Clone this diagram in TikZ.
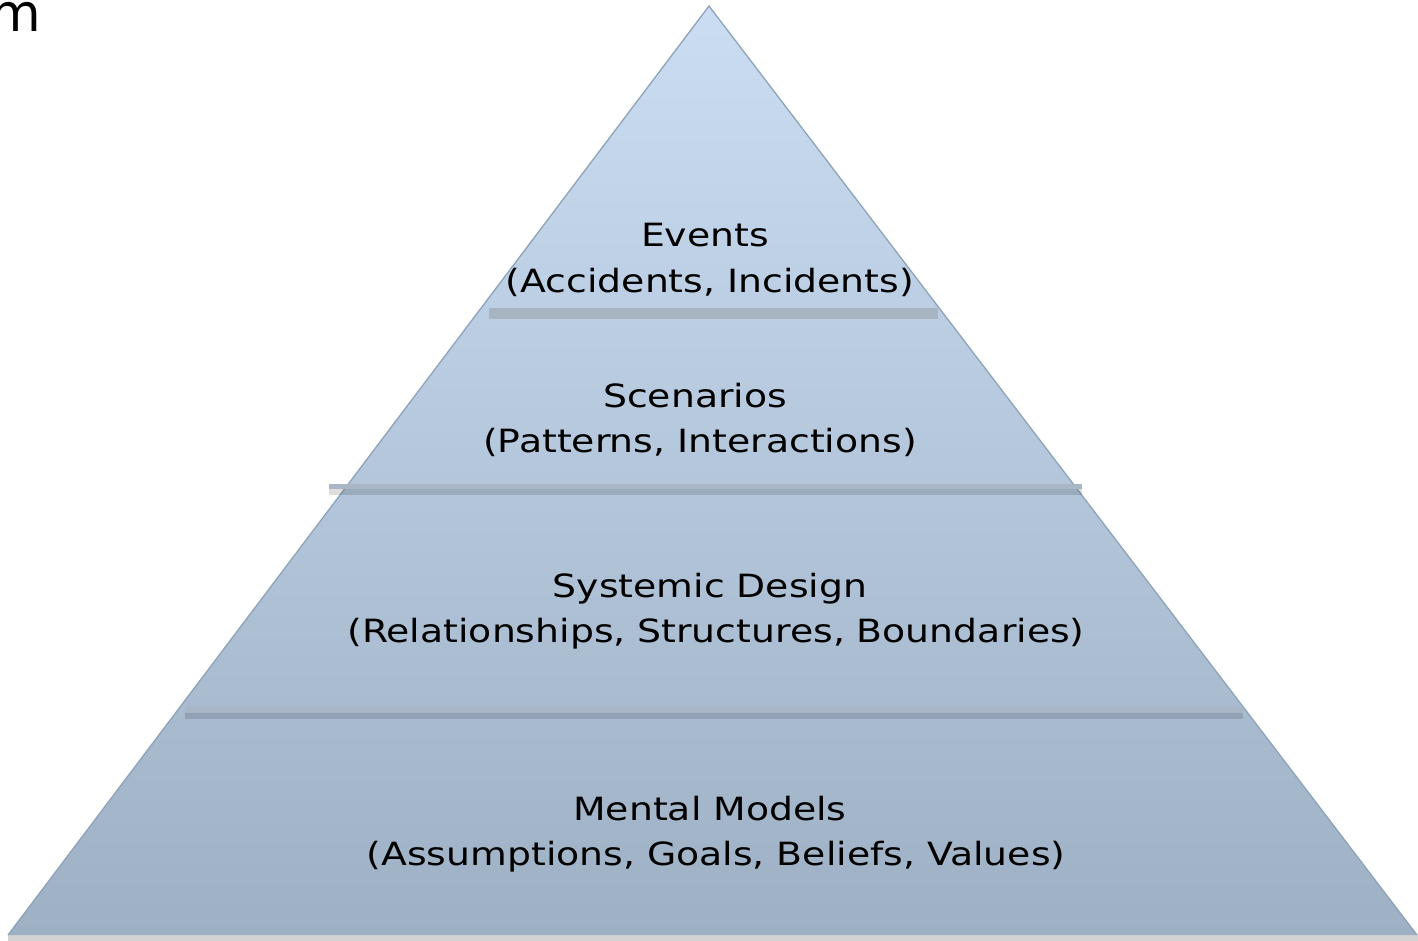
\documentclass[tikz,border=0pt]{standalone}
\usepackage{fontspec}
\newfontfamily\lab[FakeStretch=1.18]{DejaVu Sans}
\newfontfamily\ttl{DejaVu Sans}
\definecolor{topblue}{HTML}{CADDF2}
\definecolor{botblue}{HTML}{9DB0C4}
\definecolor{edgec}{HTML}{8EA3B9}
\definecolor{bandup}{HTML}{A8B6C5}
\definecolor{bandtop}{HTML}{A7B4C1}
\definecolor{strip}{HTML}{D3D3D3}
\begin{document}
\begin{tikzpicture}[x=1pt,y=-1pt,
  lbl/.style={anchor=base,inner sep=0pt,font=\lab\fontsize{32}{45}\selectfont,text=black},
  bandlow/.style={fill=black,fill opacity=0.13,draw=none},
  bandhigh/.style={fill=bandup,draw=none}]
\useasboundingbox (0,0) rectangle (1418,941);
\coordinate (apex) at (709,6);
\coordinate (bl) at (8,935);
\coordinate (br) at (1417,935);
% bottom strip
\fill[strip] (8,935) rectangle (1418,941);
% pyramid
\shade[top color=topblue,bottom color=botblue] (apex) -- (br) -- (bl) -- cycle;
\draw[edgec,line width=1.3pt,line join=miter] (bl) -- (apex) -- (br);
% bands
\fill[bandtop] (489,308) rectangle (938,319);
\fill[bandhigh] (329,484) rectangle (1082,489);
\fill[bandlow] (329,489) rectangle (1082,495);
\fill[bandhigh] (185,707) rectangle (1243,713);
\fill[bandlow] (185,713) rectangle (1243,719);
% title fragment
\node[anchor=base east,inner sep=0pt,font=\ttl\fontsize{52}{60}\selectfont] (title) at (41,32) {m};
% labels
\node[lbl] (e1) at (705,247) {Events};
\node[lbl] (e2) at (710,292) {(Accidents, Incidents)};
\node[lbl] (s1) at (695,407) {Scenarios};
\node[lbl] (s2) at (700,452) {(Patterns, Interactions)};
\node[lbl] (d1) at (710,597) {Systemic Design};
\node[lbl] (d2) at (716,642) {(Relationships, Structures, Boundaries)};
\node[lbl] (m1) at (710,820) {Mental Models};
\node[lbl] (m2) at (716,865) {(Assumptions, Goals, Beliefs, Values)};
\end{tikzpicture}
\end{document}
